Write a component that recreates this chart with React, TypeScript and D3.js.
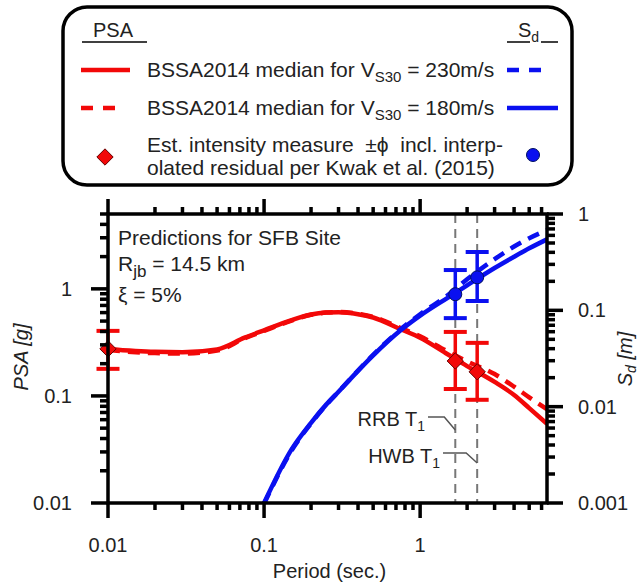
import React, { useRef, useEffect } from "react";
import * as d3 from "d3";

const periods = [0.01, 0.02, 0.03, 0.05, 0.075, 0.1, 0.15, 0.2, 0.25, 0.3, 0.4, 0.5, 0.75, 1.0, 1.5, 2.0, 3.0, 4.0, 5.0, 6.5];
// PSA [g], BSSA2014 median
const psa230 = [0.275, 0.258, 0.256, 0.272, 0.35, 0.41, 0.51, 0.575, 0.6, 0.605, 0.58, 0.54, 0.42, 0.35, 0.245, 0.19, 0.135, 0.102, 0.077, 0.055];
const psa180 = [0.268, 0.251, 0.249, 0.265, 0.345, 0.405, 0.505, 0.572, 0.6, 0.607, 0.585, 0.548, 0.43, 0.36, 0.26, 0.21, 0.16, 0.122, 0.097, 0.075];

// Sd [m]
const sdPeriods = [0.1, 0.15, 0.2, 0.25, 0.3, 0.4, 0.5, 0.75, 1.0, 1.5, 2.0, 3.0, 4.0, 5.0, 6.5];
const sdSolid = [0.001, 0.0036, 0.0068, 0.0105, 0.0143, 0.0235, 0.034, 0.062, 0.088, 0.135, 0.182, 0.275, 0.36, 0.44, 0.545];
const sdDashed = [0.00098, 0.0035, 0.0067, 0.0104, 0.0143, 0.0237, 0.0345, 0.0635, 0.091, 0.143, 0.21, 0.34, 0.46, 0.56, 0.68];

// estimated intensity measures, +/- phi
const psaPoints = [
  { T: 0.01, v: 0.275, lo: 0.179, hi: 0.405 },
  { T: 1.68, v: 0.212, lo: 0.116, hi: 0.396 },
  { T: 2.32, v: 0.168, lo: 0.092, hi: 0.313 },
];
const sdPoints = [
  { T: 1.68, v: 0.147, lo: 0.083, hi: 0.262 },
  { T: 2.32, v: 0.22, lo: 0.125, hi: 0.403 },
];
const buildings = [
  { name: "RRB", T: 1.68 },
  { name: "HWB", T: 2.32 },
];

const xTicks = [0.01, 0.1, 1];
const psaTicks = [0.01, 0.1, 1];
const sdTicks = [0.001, 0.01, 0.1, 1];
const fmt = (v: number) => String(v);

const RED = "#f20808";
const BLUE = "#0a10f0";
const FONT = "'Liberation Sans', Arial, sans-serif";

function minorTicks(domain: number[]) {
  const out: number[] = [];
  for (let d = Math.pow(10, Math.floor(Math.log10(domain[0]))); d < domain[1]; d *= 10) {
    for (let m = 2; m <= 9; m++) {
      const v = m * d;
      if (v > domain[0] * 1.0001 && v <= domain[1] * 1.0001) out.push(v);
    }
  }
  return out;
}

function App() {
  const svgRef = useRef<SVGSVGElement>(null);

  useEffect(() => {
    const svg = d3.select(svgRef.current);
    svg.selectAll("*").remove();
    svg.style("font-family", FONT);

    const left = 108, right = 547, top = 214, bottom = 503;
    const x = d3.scaleLog().domain([0.01, 6.5]).range([left, right]);
    const yL = d3.scaleLog().domain([0.01, 5]).range([bottom, top]);
    const yR = d3.scaleLog().domain([0.001, 1]).range([bottom, top]);

    const diamond = d3.symbol(d3.symbolDiamond2, 170)();

    // ---------------- legend
    const lg = svg.append("g");
    lg.append("rect")
      .attr("x", 63).attr("y", 7).attr("width", 509).attr("height", 178)
      .attr("rx", 24).attr("fill", "#fff").attr("stroke", "#000").attr("stroke-width", 3.5);

    lg.append("text").attr("x", 113).attr("y", 37).attr("text-anchor", "middle")
      .attr("font-size", 20).attr("fill", "#222").text("PSA");
    lg.append("line").attr("x1", 82).attr("x2", 147).attr("y1", 42).attr("y2", 42)
      .attr("stroke", "#000").attr("stroke-width", 1.5);
    const sdHead = lg.append("text").attr("x", 518).attr("y", 37).attr("font-size", 20).attr("fill", "#222");
    sdHead.append("tspan").text("S");
    sdHead.append("tspan").attr("font-size", 14).attr("dy", 5).text("d");
    lg.append("line").attr("x1", 507).attr("x2", 530).attr("y1", 42).attr("y2", 42)
      .attr("stroke", "#000").attr("stroke-width", 1.5);
    lg.append("line").attr("x1", 541).attr("x2", 558).attr("y1", 42).attr("y2", 42)
      .attr("stroke", "#000").attr("stroke-width", 1.5);

    const rows = [
      { y: 70, vs: "230", redDash: null, blueDash: "12,10" },
      { y: 108, vs: "180", redDash: "12,10", blueDash: null },
    ];
    rows.forEach(r => {
      lg.append("line").attr("x1", 81).attr("x2", r.redDash ? 116 : 130).attr("y1", r.y).attr("y2", r.y)
        .attr("stroke", RED).attr("stroke-width", 4.5).attr("stroke-dasharray", r.redDash);
      lg.append("line").attr("x1", 507).attr("x2", r.blueDash ? 545 : 558).attr("y1", r.y).attr("y2", r.y)
        .attr("stroke", BLUE).attr("stroke-width", 4.5).attr("stroke-dasharray", r.blueDash);
      const t = lg.append("text").attr("x", 147).attr("y", r.y + 7).attr("font-size", 21).attr("fill", "#222");
      t.append("tspan").text("BSSA2014 median for V");
      t.append("tspan").attr("font-size", 15).attr("dy", 5).text("S30");
      t.append("tspan").attr("dy", -5).text(` = ${r.vs}m/s`);
    });
    lg.append("path")
      .attr("d", diamond)
      .attr("transform", "translate(105,157)")
      .attr("fill", RED).attr("stroke", "#600").attr("stroke-width", 1);
    lg.append("circle").attr("cx", 533).attr("cy", 155).attr("r", 6.5)
      .attr("fill", BLUE).attr("stroke", "#001060").attr("stroke-width", 1);
    lg.append("text").attr("x", 147).attr("y", 152).attr("font-size", 21).attr("fill", "#222")
      .style("white-space", "pre").text("Est. intensity measure  \u00B1\u03D5  incl. interp-");
    lg.append("text").attr("x", 147).attr("y", 175).attr("font-size", 21).attr("fill", "#222")
      .text("olated residual per Kwak et al. (2015)");

    // ---------------- plot
    svg.append("clipPath").attr("id", "plotclip")
      .append("rect").attr("x", left).attr("y", top).attr("width", right - left).attr("height", bottom - top);

    // first-mode period markers
    buildings.forEach(b => {
      svg.append("line")
        .attr("x1", x(b.T)).attr("x2", x(b.T)).attr("y1", top).attr("y2", bottom)
        .attr("stroke", "#777").attr("stroke-width", 2).attr("stroke-dasharray", "9,6");
    });
    const lbl = [
      { b: buildings[0], ty: 426, ly: 417, ey: 430 },
      { b: buildings[1], ty: 463, ly: 453, ey: 463 },
    ];
    lbl.forEach((l, i) => {
      const xe = x(l.b.T);
      const t = svg.append("text").attr("x", i === 0 ? 425 : 440).attr("y", l.ty)
        .attr("text-anchor", "end").attr("font-size", 20).attr("fill", "#222");
      t.append("tspan").text(`${l.b.name} T`);
      t.append("tspan").attr("font-size", 14).attr("dy", 5).text("1");
      svg.append("path")
        .attr("d", `M${i === 0 ? 428 : 443},${l.ly}H${xe - 11}L${xe},${l.ey}`)
        .attr("fill", "none").attr("stroke", "#555").attr("stroke-width", 1.5);
    });

    // curves
    const curves = svg.append("g").attr("clip-path", "url(#plotclip)");
    const psaLine = d3.line<number>().x((d, i) => x(periods[i])).y(d => yL(d)).curve(d3.curveMonotoneX);
    const sdLine = d3.line<number>().x((d, i) => x(sdPeriods[i])).y(d => yR(d)).curve(d3.curveMonotoneX);
    curves.append("path").attr("d", psaLine(psa180)).attr("fill", "none")
      .attr("stroke", RED).attr("stroke-width", 4.5).attr("stroke-dasharray", "12,8");
    curves.append("path").attr("d", psaLine(psa230)).attr("fill", "none")
      .attr("stroke", RED).attr("stroke-width", 4.5);
    curves.append("path").attr("d", sdLine(sdDashed)).attr("fill", "none")
      .attr("stroke", BLUE).attr("stroke-width", 4.5).attr("stroke-dasharray", "12,8");
    curves.append("path").attr("d", sdLine(sdSolid)).attr("fill", "none")
      .attr("stroke", BLUE).attr("stroke-width", 4.5);

    // error bars + markers
    const errBars = (pts: typeof psaPoints, y: d3.ScaleLogarithmic<number, number>, col: string) => {
      pts.forEach(p => {
        const cx = x(p.T);
        svg.append("line").attr("x1", cx).attr("x2", cx).attr("y1", y(p.hi)).attr("y2", y(p.lo))
          .attr("stroke", col).attr("stroke-width", 3.5);
        [p.hi, p.lo].forEach(v => {
          svg.append("line").attr("x1", cx - 11.5).attr("x2", cx + 11.5).attr("y1", y(v)).attr("y2", y(v))
            .attr("stroke", col).attr("stroke-width", 4);
        });
      });
    };
    errBars(psaPoints, yL, RED);
    errBars(sdPoints, yR, BLUE);
    psaPoints.forEach(p => {
      svg.append("path")
        .attr("d", diamond)
        .attr("transform", `translate(${x(p.T)},${yL(p.v)})`)
        .attr("fill", RED).attr("stroke", "#600").attr("stroke-width", 1);
    });
    sdPoints.forEach(p => {
      svg.append("circle").attr("cx", x(p.T)).attr("cy", yR(p.v)).attr("r", 6.5)
        .attr("fill", BLUE).attr("stroke", "#001060").attr("stroke-width", 1);
    });

    // frame
    svg.append("rect").attr("x", left).attr("y", top).attr("width", right - left).attr("height", bottom - top)
      .attr("fill", "none").attr("stroke", "#000").attr("stroke-width", 3.5);

    const tk = svg.append("g").attr("stroke", "#000").attr("stroke-width", 3.5);
    const majL = 15, minL = 7;
    // x ticks (top and bottom, outward)
    xTicks.forEach(v => {
      tk.append("line").attr("x1", x(v)).attr("x2", x(v)).attr("y1", bottom).attr("y2", bottom + majL);
      tk.append("line").attr("x1", x(v)).attr("x2", x(v)).attr("y1", top).attr("y2", top - majL);
    });
    minorTicks(x.domain()).forEach(v => {
      tk.append("line").attr("x1", x(v)).attr("x2", x(v)).attr("y1", bottom).attr("y2", bottom + minL);
      tk.append("line").attr("x1", x(v)).attr("x2", x(v)).attr("y1", top).attr("y2", top - minL);
    });
    // left ticks
    psaTicks.forEach(v => {
      tk.append("line").attr("x1", left).attr("x2", left - majL - 2).attr("y1", yL(v)).attr("y2", yL(v));
    });
    minorTicks(yL.domain()).forEach(v => {
      tk.append("line").attr("x1", left).attr("x2", left - minL - 1).attr("y1", yL(v)).attr("y2", yL(v));
    });
    // right ticks
    sdTicks.forEach(v => {
      tk.append("line").attr("x1", right).attr("x2", right + majL + 1).attr("y1", yR(v)).attr("y2", yR(v));
    });
    minorTicks(yR.domain()).forEach(v => {
      tk.append("line").attr("x1", right).attr("x2", right + minL + 1).attr("y1", yR(v)).attr("y2", yR(v));
    });

    // tick labels
    xTicks.forEach(v => {
      svg.append("text").attr("x", x(v)).attr("y", 552).attr("text-anchor", "middle")
        .attr("font-size", 20).attr("fill", "#222").text(fmt(v));
    });
    psaTicks.forEach(v => {
      svg.append("text").attr("x", 72).attr("y", yL(v) + 7).attr("text-anchor", "end")
        .attr("font-size", 20).attr("fill", "#222").text(fmt(v));
    });
    sdTicks.forEach(v => {
      svg.append("text").attr("x", 578).attr("y", yR(v) + 7)
        .attr("font-size", 20).attr("fill", "#222").text(fmt(v));
    });

    // axis titles
    svg.append("text").attr("x", (left + right) / 2 + 2).attr("y", 578).attr("text-anchor", "middle")
      .attr("font-size", 20).attr("fill", "#222").text("Period (sec.)");
    svg.append("text").attr("transform", "translate(28,357) rotate(-90)").attr("text-anchor", "middle")
      .attr("font-size", 20).attr("font-style", "italic").attr("fill", "#222").text("PSA [g]");
    const sdT = svg.append("text").attr("transform", "translate(632,359) rotate(-90)").attr("text-anchor", "middle")
      .attr("font-size", 20).attr("font-style", "italic").attr("fill", "#222");
    sdT.append("tspan").text("S");
    sdT.append("tspan").attr("font-size", 14).attr("dy", 4).text("d");
    sdT.append("tspan").attr("dy", -4).text(" [m]");

    // annotation
    svg.append("text").attr("x", 118).attr("y", 245).attr("font-size", 21).attr("fill", "#222")
      .text("Predictions for SFB Site");
    const rj = svg.append("text").attr("x", 118).attr("y", 271).attr("font-size", 21).attr("fill", "#222");
    rj.append("tspan").text("R");
    rj.append("tspan").attr("font-size", 17).attr("dy", 6).text("jb");
    rj.append("tspan").attr("dy", -6).text(" = 14.5 km");
    svg.append("text").attr("x", 118).attr("y", 302).attr("font-size", 21).attr("fill", "#222")
      .text("\u03BE = 5%");
  }, []);

  return (
    <svg ref={svgRef} width={638} height={587}
      style={{ position: "absolute", left: 0, top: 0, background: "#fff" }} />
  );
}

export default App;
